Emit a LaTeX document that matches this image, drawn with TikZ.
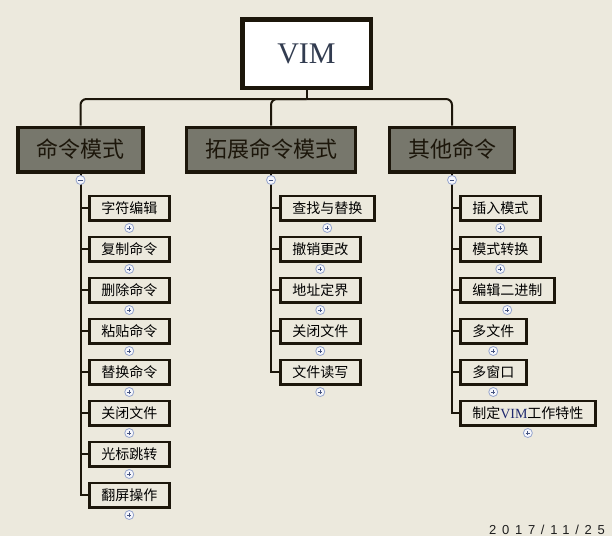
\documentclass[tikz,border=0pt]{standalone}
\usepackage{fontspec}
\setmainfont{Liberation Serif}
\newfontfamily\cjk{Noto Sans CJK SC}
\newfontfamily\datefont[LetterSpace=44]{Liberation Sans}
\usetikzlibrary{positioning}
\definecolor{paper}{RGB}{236,233,221}
\definecolor{edge}{RGB}{28,22,10}
\definecolor{modefill}{RGB}{119,119,108}
\definecolor{vimtext}{RGB}{50,60,80}
\definecolor{vimblue}{RGB}{30,40,110}
\definecolor{toggledraw}{RGB}{150,165,205}
\definecolor{togglefill}{RGB}{246,247,252}
\definecolor{sign}{RGB}{70,85,130}
\definecolor{datetext}{RGB}{30,30,30}
\tikzset{
    rootbox/.style={
        rectangle, draw=edge, line width=4.5pt,
        minimum width=128.5pt, minimum height=68.5pt,
        fill=white, text=vimtext, font=\fontsize{30pt}{32pt}\selectfont
    },
    modebox/.style={
        rectangle, draw=edge, line width=3.5pt,
        minimum height=44.5pt, inner xsep=18.5pt,
        fill=modefill, text=edge, font=\cjk\fontsize{22pt}{24pt}\selectfont
    },
    itembox/.style={
        rectangle, draw=edge, line width=2.5pt,
        minimum height=24.5pt, inner xsep=12pt,
        fill=paper, text=black, font=\cjk\fontsize{14pt}{16pt}\selectfont
    },
    link/.style={draw=edge, line width=2pt},
    toggle/.style={circle, draw=toggledraw, fill=togglefill, line width=0.8pt,
        minimum size=9pt, inner sep=0pt},
    collapse/.style={toggle, path picture={
        \draw[sign, line width=0.9pt]
            ([xshift=-2.2pt]path picture bounding box.center) --
            ([xshift=2.2pt]path picture bounding box.center);}},
    expand/.style={toggle, path picture={
        \draw[sign, line width=0.9pt]
            ([xshift=-2.2pt]path picture bounding box.center) --
            ([xshift=2.2pt]path picture bounding box.center)
            ([yshift=-2.2pt]path picture bounding box.center) --
            ([yshift=2.2pt]path picture bounding box.center);}},
    datelabel/.style={font=\datefont\fontsize{13pt}{15pt}\selectfont,
        text=datetext, inner sep=0pt}
}

\begin{document}
\begin{tikzpicture}[x=1pt, y=-1pt]

% Canvas
\fill[paper] (0,0) rectangle (612,536);
\useasboundingbox (0,0) rectangle (612,536);

% Root
\node[rootbox] (vim) at (306.5,53.5) {VIM};
\coordinate (hub) at (306.5,99);

% Modes
\node[modebox] (cmd) at (80.5,149.5) {命令模式};
\node[modebox] (ext) at (271,149.5) {拓展命令模式};
\node[modebox] (misc) at (452,149.5) {其他命令};

\draw[link] (vim.south) -- (hub);
\draw[link, rounded corners=6pt] (hub) -| (cmd.north);
\draw[link, rounded corners=6pt] (hub) -| (ext.north);
\draw[link, rounded corners=6pt] (hub) -| (misc.north);

% Command mode items
\node[itembox, anchor=west] (cmd1) at (88,208) {字符编辑};
\node[itembox, below=14pt of cmd1.south west, anchor=north west] (cmd2) {复制命令};
\node[itembox, below=14pt of cmd2.south west, anchor=north west] (cmd3) {删除命令};
\node[itembox, below=14pt of cmd3.south west, anchor=north west] (cmd4) {粘贴命令};
\node[itembox, below=14pt of cmd4.south west, anchor=north west] (cmd5) {替换命令};
\node[itembox, below=14pt of cmd5.south west, anchor=north west] (cmd6) {关闭文件};
\node[itembox, below=14pt of cmd6.south west, anchor=north west] (cmd7) {光标跳转};
\node[itembox, below=14pt of cmd7.south west, anchor=north west] (cmd8) {翻屏操作};

% Extended command mode items
\node[itembox, anchor=west] (ext1) at (279,208) {查找与替换};
\node[itembox, below=14pt of ext1.south west, anchor=north west] (ext2) {撤销更改};
\node[itembox, below=14pt of ext2.south west, anchor=north west] (ext3) {地址定界};
\node[itembox, below=14pt of ext3.south west, anchor=north west] (ext4) {关闭文件};
\node[itembox, below=14pt of ext4.south west, anchor=north west] (ext5) {文件读写};

% Other command items
\node[itembox, anchor=west] (misc1) at (459,208) {插入模式};
\node[itembox, below=14pt of misc1.south west, anchor=north west] (misc2) {模式转换};
\node[itembox, below=14pt of misc2.south west, anchor=north west] (misc3) {编辑二进制};
\node[itembox, below=14pt of misc3.south west, anchor=north west] (misc4) {多文件};
\node[itembox, below=14pt of misc4.south west, anchor=north west] (misc5) {多窗口};
\node[itembox, below=14pt of misc5.south west, anchor=north west] (misc6)
    {制定{\rmfamily\color{vimblue}VIM}工作特性};

% Branch lines
\draw[link] (cmd.south) |- (cmd1.west);
\draw[link] (cmd.south) |- (cmd2.west);
\draw[link] (cmd.south) |- (cmd3.west);
\draw[link] (cmd.south) |- (cmd4.west);
\draw[link] (cmd.south) |- (cmd5.west);
\draw[link] (cmd.south) |- (cmd6.west);
\draw[link] (cmd.south) |- (cmd7.west);
\draw[link] (cmd.south) |- (cmd8.west);

\draw[link] (ext.south) |- (ext1.west);
\draw[link] (ext.south) |- (ext2.west);
\draw[link] (ext.south) |- (ext3.west);
\draw[link] (ext.south) |- (ext4.west);
\draw[link] (ext.south) |- (ext5.west);

\draw[link] (misc.south) |- (misc1.west);
\draw[link] (misc.south) |- (misc2.west);
\draw[link] (misc.south) |- (misc3.west);
\draw[link] (misc.south) |- (misc4.west);
\draw[link] (misc.south) |- (misc5.west);
\draw[link] (misc.south) |- (misc6.west);

% Toggles
\node[collapse, below=1.6pt of cmd] (cmdt) {};
\node[collapse, below=1.6pt of ext] (extt) {};
\node[collapse, below=1.6pt of misc] (misct) {};

\node[expand, below=1.6pt of cmd1] (cmd1t) {};
\node[expand, below=1.6pt of cmd2] (cmd2t) {};
\node[expand, below=1.6pt of cmd3] (cmd3t) {};
\node[expand, below=1.6pt of cmd4] (cmd4t) {};
\node[expand, below=1.6pt of cmd5] (cmd5t) {};
\node[expand, below=1.6pt of cmd6] (cmd6t) {};
\node[expand, below=1.6pt of cmd7] (cmd7t) {};
\node[expand, below=1.6pt of cmd8] (cmd8t) {};

\node[expand, below=1.6pt of ext1] (ext1t) {};
\node[expand, below=1.6pt of ext2] (ext2t) {};
\node[expand, below=1.6pt of ext3] (ext3t) {};
\node[expand, below=1.6pt of ext4] (ext4t) {};
\node[expand, below=1.6pt of ext5] (ext5t) {};

\node[expand, below=1.6pt of misc1] (misc1t) {};
\node[expand, below=1.6pt of misc2] (misc2t) {};
\node[expand, below=1.6pt of misc3] (misc3t) {};
\node[expand, below=1.6pt of misc4] (misc4t) {};
\node[expand, below=1.6pt of misc5] (misc5t) {};
\node[expand, below=1.6pt of misc6] (misc6t) {};

% Date
\node[datelabel, anchor=base west] (date) at (489,534) {2017/11/25};

\end{tikzpicture}
\end{document}
